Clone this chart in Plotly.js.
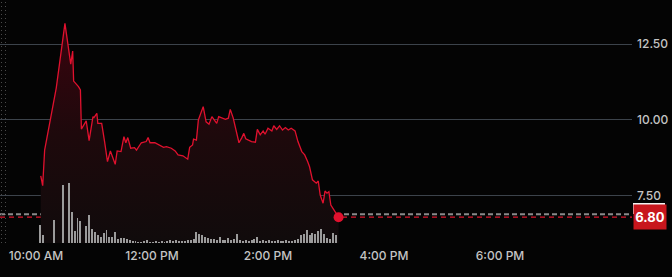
<!DOCTYPE html>
<html>
<head>
<meta charset="utf-8">
<script src="https://cdn.plot.ly/plotly-3.0.1.min.js"></script>
<style>
  html, body { margin: 0; padding: 0; background: #040404; }
  #chart { width: 672px; height: 277px; }
</style>
</head>
<body>
<div id="chart"></div>
<script>
// ---- data ----
const day = '2024-05-01 ';
const priceTimes = ['10:05','10:07','10:09','10:20','10:21','10:30','10:34','10:36','10:38','10:39',
  '10:44','10:46','10:47','10:52','10:55','10:59','11:00','11:03','11:04','11:08',
  '11:11','11:14','11:17','11:22','11:24','11:28','11:31','11:33','11:35','11:38',
  '11:42','11:44','11:49','11:54','11:56','11:58','12:03','12:08','12:12','12:15',
  '12:20','12:24','12:27','12:32','12:37','12:39','12:42','12:43','12:46','12:48',
  '12:50','12:53','12:56','12:59','13:02','13:05','13:07','13:09','13:12','13:16',
  '13:19','13:21','13:24','13:27','13:30','13:33','13:35','13:37','13:43','13:47',
  '13:49','13:52','13:55','13:57','14:00','14:04','14:06','14:09','14:12','14:15',
  '14:18','14:21','14:24','14:28','14:31','14:35','14:38','14:41','14:43','14:46',
  '14:50','14:52','14:54','14:57','14:59','15:01','15:03','15:05','15:08','15:10','15:13'];
const prices = [8.16,7.84,9.01,10.93,11.05,13.18,12.37,11.84,12.27,11.28,
  11.10,10.99,9.70,9.97,9.32,10.11,10.08,10.22,9.89,9.89,
  9.29,8.63,8.98,8.54,8.98,8.96,9.45,9.25,9.42,9.07,
  9.09,9.01,9.25,9.29,9.42,9.25,9.25,9.18,9.10,9.12,
  9.07,8.98,8.85,8.82,8.71,9.10,9.18,9.37,9.34,10.00,
  10.20,10.44,9.94,9.86,10.11,10.00,9.89,10.11,10.08,10.02,
  10.06,10.35,10.07,9.62,9.25,9.42,9.56,9.38,9.29,9.27,
  9.69,9.51,9.64,9.53,9.73,9.64,9.81,9.69,9.81,9.67,
  9.75,9.67,9.73,9.64,9.29,8.96,8.85,8.63,8.46,8.03,
  7.92,7.99,7.53,7.26,7.66,7.59,7.64,7.20,7.04,6.96,6.80];

// volume bars (thousands of shares), one per 3 minutes starting 10:04
const volumeStart = '10:04';
const volumeStepMin = 3;
const volumes = [180,80,0,0,0,230,0,0,580,0,600,310,120,250,220,0,170,280,140,110,
  80,60,100,130,60,60,110,40,50,50,40,30,20,20,15,15,20,30,15,15,
  20,15,20,15,20,30,20,30,20,20,20,30,30,40,110,90,80,60,50,40,
  40,30,60,30,30,50,30,40,90,30,20,30,20,30,40,60,20,30,20,30,
  20,20,30,20,20,30,20,20,30,40,80,90,130,80,100,90,120,140,90,50,
  40,100,80];

const lastPrice = 6.80;
const prevClose = 6.90;
const yTicks = [7.5, 10, 12.5];
const yTickText = ['7.50', '10.00', '12.50'];
const xTicks = ['10:00', '12:00', '14:00', '16:00', '18:00'];

// ---- build ----
const px = priceTimes.map(t => day + t);
const startMs = new Date(day.replace(' ', 'T') + volumeStart + ':00').getTime();
function fmt(ms) {
  const d = new Date(ms);
  const p = n => String(n).padStart(2, '0');
  return day + p(d.getHours()) + ':' + p(d.getMinutes()) + ':' + p(d.getSeconds());
}
const vx = volumes.map((v, i) => fmt(startMs + i * volumeStepMin * 60000));

const red = '#e0112e';
const traces = [
  {
    type: 'scatter', mode: 'lines', x: px, y: prices,
    line: { color: red, width: 1.3 },
    fill: 'tozeroy',
    fillgradient: { type: 'vertical', start: 5.95, stop: 13.2,
      colorscale: [[0, 'rgba(16,11,12,1)'], [0.5, 'rgba(30,9,12,1)'], [1, 'rgba(58,4,14,1)']] },
    hoverinfo: 'skip', showlegend: false
  },
  {
    type: 'bar', x: vx, y: volumes, yaxis: 'y2',
    marker: { color: '#9b9b9b', line: { width: 0 } },
    width: 2.0 * 60000,
    hoverinfo: 'skip', showlegend: false
  },
  {
    type: 'scatter', mode: 'markers', x: [px[px.length - 1]], y: [prices[prices.length - 1]],
    marker: { color: red, size: 10 }, hoverinfo: 'skip', showlegend: false
  }
];

const font = { family: 'Inter, "Open Sans", sans-serif', size: 12, color: '#c4c4c4', weight: 500 };

const layout = {
  width: 672, height: 277,
  margin: { l: 0, r: 40, t: 0, b: 34, pad: 0 },
  paper_bgcolor: '#040404', plot_bgcolor: '#040404',
  font: font,
  showlegend: false,
  bargap: 0,
  xaxis: {
    type: 'date',
    range: [day + '09:22:50', day + '20:16:30'],
    tickvals: xTicks.map(t => day + t),
    tickformat: '%-I:%M %p',
    showgrid: false, zeroline: false, showline: false,
    ticks: '', ticklabelstandoff: 4,
    tickfont: font, fixedrange: true
  },
  yaxis: {
    side: 'right', range: [5.95, 13.95],
    tickvals: yTicks, ticktext: yTickText,
    showgrid: true, gridcolor: '#3c434b', gridwidth: 1,
    zeroline: false, showline: false, ticks: '',
    ticklabelstandoff: 4, tickfont: font, fixedrange: true
  },
  yaxis2: {
    overlaying: 'y', range: [0, 2430], visible: false, fixedrange: true
  },
  shapes: [
    { type: 'line', xref: 'paper', yref: 'paper', x0: 1.5 / 632, x1: 1.5 / 632, y0: 0, y1: 1,
      line: { color: '#4a4a4a', width: 1, dash: '1px,3px' }, layer: 'above' },
    { type: 'line', xref: 'paper', yref: 'paper', x0: 5.5 / 632, x1: 5.5 / 632, y0: 0, y1: 1,
      line: { color: '#4a4a4a', width: 1, dash: '1px,3px' }, layer: 'above' },
    { type: 'line', xref: 'paper', yref: 'y', x0: 0, x1: 1, y0: prevClose, y1: prevClose,
      line: { color: '#8a8a8a', width: 2, dash: '5px,3px' }, layer: 'below' },
    { type: 'line', xref: 'paper', yref: 'y', x0: 0, x1: 1, y0: lastPrice, y1: lastPrice,
      line: { color: '#d9142b', width: 1.2, dash: '5px,4px' }, layer: 'below' },
    { type: 'rect', xref: 'paper', yref: 'paper', x0: 633 / 632, x1: 665 / 632,
      y0: (243 - 214) / 243, y1: (243 - 203) / 243,
      fillcolor: '#f2f2f2', line: { width: 0 }, layer: 'above' }
  ],
  annotations: [
    { xref: 'paper', yref: 'y', x: 1, y: lastPrice, xanchor: 'left', yanchor: 'middle',
      xshift: 1, text: '<b>' + lastPrice.toFixed(2) + '</b>', showarrow: false,
      bgcolor: '#c8161d', borderpad: 0, width: 32, height: 24,
      font: { family: 'Inter, "Open Sans", sans-serif', size: 13, color: '#ffffff' } }
  ]
};

Plotly.newPlot('chart', traces, layout, { displayModeBar: false, staticPlot: true });
</script>
</body>
</html>
